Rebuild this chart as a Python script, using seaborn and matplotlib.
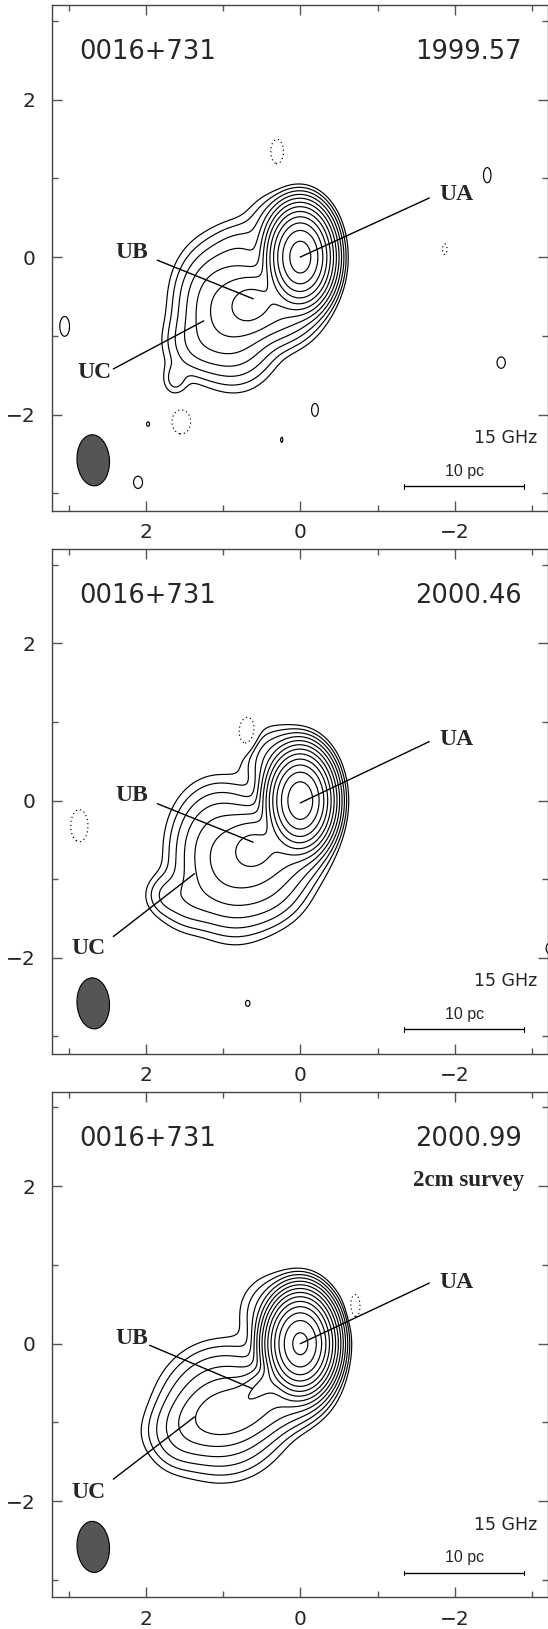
import numpy as np
import matplotlib
matplotlib.use("Agg")
import matplotlib.pyplot as plt
import seaborn as sns
from matplotlib.patches import Ellipse

sns.set_style("ticks")
plt.rcParams["font.family"] = ["DejaVu Sans"]
plt.rcParams["axes.unicode_minus"] = True

source = "0016+731"
epochs = ["1999.57", "2000.46", "2000.99"]
freq_label = "15 GHz"
scale_label = "10 pc"
tick_major = [-2, 0, 2]
tick_minor = [-3, -1, 1, 3]

# contour levels: lowest positive level times powers of two, one negative level
n_levels = [12, 12, 14]
neg_level = -1.0

# model components per epoch: x, y (mas), peak, sigma_a, sigma_b, angle (deg)
# order: core, core wing, UB, bridge, jet blob, filler, UC edge, bulge
comp_x = [
    [0.0, 0.30, 0.65, 0.30, 0.95, 0.75, 1.35, 1.62],
    [0.0, 0.30, 0.62, 0.25, 0.95, 0.45, 1.45, 1.75],
    [0.0, 0.30, 0.45, 0.15, 1.00, 0.80, 1.45, 1.60],
]
comp_y = [
    [0.0, 0.40, -0.60, -0.55, -0.70, 0.05, -1.10, -1.55],
    [0.0, 0.50, -0.60, -0.55, -0.75, -1.00, -1.25, -1.20],
    [0.0, 0.40, -0.50, -0.50, -0.85, -0.85, -1.10, -1.30],
]
comp_amp = [
    [3000, 5, 55, 40, 40, 5, 6, 2.5],
    [3500, 8, 50, 40, 40, 15, 5, 3],
    [10000, 6, 50, 30, 25, 35, 1.5, 2],
]
comp_sa = [
    [0.155, 0.22, 0.18, 0.25, 0.38, 0.22, 0.22, 0.10],
    [0.155, 0.22, 0.18, 0.25, 0.40, 0.27, 0.22, 0.15],
    [0.155, 0.25, 0.22, 0.22, 0.37, 0.45, 0.22, 0.20],
]
comp_sb = [
    [0.23, 0.22, 0.20, 0.25, 0.28, 0.22, 0.22, 0.13],
    [0.23, 0.22, 0.20, 0.25, 0.30, 0.27, 0.22, 0.15],
    [0.22, 0.25, 0.10, 0.22, 0.36, 0.20, 0.22, 0.20],
]
comp_pa = [
    [0, 0, 0, 0, 79, 0, 0, 0],
    [0, 0, 0, 0, 79, 0, 0, 0],
    [0, 0, -35, 0, -30, -15, 0, 0],
]

# small noise features (positive solid, negative dotted)
noise_x = [
    [0.30, -0.35, -2.42, -1.87, 3.05, -2.60, -2.74, -0.19, 1.97, 1.54, 0.24, 2.10],
    [0.68, 2.86, 0.68, -1.80, -3.34],
    [-0.71],
]
noise_y = [
    [1.34, 1.65, 1.04, 0.10, -0.88, -1.34, -1.83, -1.94, -2.12, -2.09, -2.32, -2.86],
    [0.85, -0.32, -2.58, -1.70, -1.88],
    [0.48],
]
noise_amp = [
    [-1.6, 1.05, 1.6, -1.6, 1.6, 1.6, 1.05, 1.6, 1.6, -1.6, 1.6, 1.6],
    [-2.5, -1.6, 1.6, 1.05, 1.9],
    [-1.6],
]
noise_sx = [
    [0.085, 0.012, 0.05, 0.03, 0.065, 0.055, 0.012, 0.045, 0.02, 0.125, 0.015, 0.06],
    [0.09, 0.115, 0.03, 0.012, 0.14],
    [0.065],
]
noise_sy = [
    [0.16, 0.012, 0.10, 0.07, 0.13, 0.075, 0.012, 0.085, 0.03, 0.16, 0.035, 0.08],
    [0.16, 0.21, 0.04, 0.012, 0.10],
    [0.15],
]

# component labels and pointer lines
label_names = ["UA", "UB", "UC"]
label_x = [[-1.80, 1.97, 2.45], [-1.80, 1.97, 2.52], [-1.80, 1.97, 2.52]]
label_y = [[0.79, 0.06, -1.46], [0.78, 0.06, -1.88], [0.78, 0.06, -1.89]]
line_x0 = [[-1.67, 1.85, 2.42], [-1.67, 1.85, 2.42], [-1.67, 1.95, 2.42]]
line_y0 = [[0.75, -0.04, -1.42], [0.75, -0.04, -1.73], [0.77, -0.02, -1.72]]
line_x1 = [[0.0, 0.61, 1.25], [0.0, 0.61, 1.37], [0.0, 0.62, 1.37]]
line_y1 = [[0.0, -0.53, -0.81], [-0.03, -0.53, -0.93], [0.0, -0.57, -0.93]]

beam_x, beam_y, beam_w, beam_h, beam_pa = 2.68, -2.58, 0.42, 0.65, -4
bar_x = [-1.34, -2.90]
bar_y = -2.91

xg = np.linspace(3.4, -3.4, 500)
yg = np.linspace(-3.4, 3.4, 500)
X, Y = np.meshgrid(xg, yg)


def model_map(i):
    Z = np.zeros_like(X)
    for cx, cy, a, sa, sb, pa in zip(comp_x[i], comp_y[i], comp_amp[i],
                                     comp_sa[i], comp_sb[i], comp_pa[i]):
        t = np.deg2rad(pa)
        dx, dy = X - cx, Y - cy
        u = dx * np.cos(t) + dy * np.sin(t)
        v = -dx * np.sin(t) + dy * np.cos(t)
        Z += a * np.exp(-0.5 * ((u / sa) ** 2 + (v / sb) ** 2))
    for cx, cy, a, sx, sy in zip(noise_x[i], noise_y[i], noise_amp[i],
                                 noise_sx[i], noise_sy[i]):
        Z += a * np.exp(-0.5 * (((X - cx) / sx) ** 2 + ((Y - cy) / sy) ** 2))
    return Z


W, H = 548, 1629
fig = plt.figure(figsize=(W / 100, H / 100), dpi=100)
panels = [(5.0, 510.7), (549.0, 1053.7), (1091.7, 1597.3)]
left_px, right_px = 52.3, 547.5

for i, (top, bot) in enumerate(panels):
    ax = fig.add_axes([left_px / W, 1 - bot / H, (right_px - left_px) / W, (bot - top) / H])
    Z = model_map(i)
    levels = [2.0 ** k for k in range(n_levels[i])]
    ax.contour(X, Y, Z, levels=levels, colors="k", linewidths=0.85, linestyles="solid")
    ax.contour(X, Y, Z, levels=[neg_level], colors="k", linewidths=0.85,
               linestyles=[(0, (1, 2.5))])

    ax.add_patch(Ellipse((beam_x, beam_y), beam_w, beam_h, angle=beam_pa,
                         facecolor="#555555", edgecolor="k", lw=0.8, zorder=3))

    for j in range(3):
        sns.lineplot(x=[line_x0[i][j], line_x1[i][j]], y=[line_y0[i][j], line_y1[i][j]],
                     ax=ax, color="k", lw=1.0, sort=False, estimator=None)
        ha = "left" if j == 0 else "right"
        ax.text(label_x[i][j], label_y[i][j], label_names[j], ha=ha, va="center",
                family="Liberation Serif", fontweight="bold", fontsize=17)

    sns.lineplot(x=bar_x, y=[bar_y, bar_y], ax=ax, color="k", lw=1.0, sort=False, estimator=None)
    for bx in bar_x:
        ax.plot([bx, bx], [bar_y - 0.03, bar_y + 0.03], color="k", lw=0.8)
    ax.text(np.mean(bar_x), -2.72, scale_label, ha="center", va="center",
            family="Liberation Sans", fontsize=11.5)
    ax.text(-3.07, -2.30, freq_label, ha="right", va="center", fontsize=12.5)
    ax.text(2.86, 2.60, source, ha="left", va="center", fontsize=18.5)
    ax.text(-2.87, 2.60, epochs[i], ha="right", va="center", fontsize=18.5)
    if i == 2:
        ax.text(-2.90, 2.07, "2cm survey", ha="right", va="center",
                family="Liberation Serif", fontweight="bold", fontsize=16.5)

    ax.set_xlim(3.21, -3.2)
    ax.set_ylim(-3.22, 3.2)
    ax.set_xticks(tick_major)
    ax.set_xticks(tick_minor, minor=True)
    ax.set_yticks(tick_major)
    ax.set_yticks(tick_minor, minor=True)
    ax.set_xticklabels([str(t).replace("-", "\u2212") for t in tick_major])
    ax.set_yticklabels([str(t).replace("-", "\u2212") for t in tick_major])
    ax.tick_params(which="both", direction="in", top=True, right=True, color="#555555", width=1.0)
    ax.tick_params(which="major", length=7, labelsize=14.5)
    ax.tick_params(axis="x", which="major", pad=9)
    ax.tick_params(axis="y", which="major", pad=12)
    ax.tick_params(which="minor", length=4)
    for s in ax.spines.values():
        s.set_color("#444444")
        s.set_linewidth(1.0)
    ax.set_xlabel("")
    ax.set_ylabel("")

fig.savefig("out.png", dpi=100)
